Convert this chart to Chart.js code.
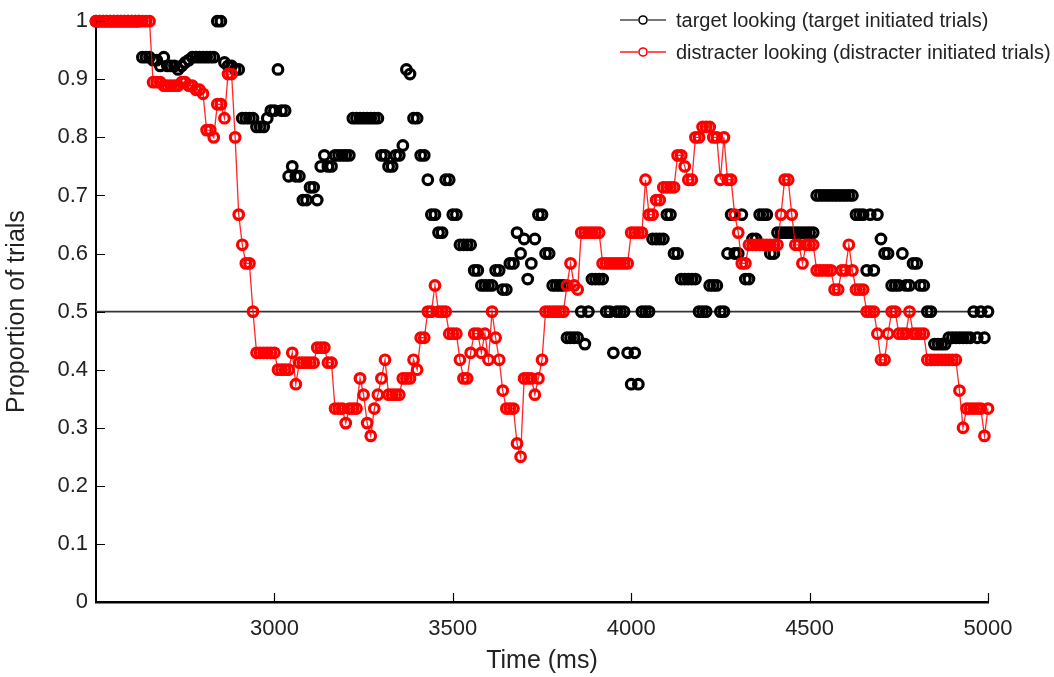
<!DOCTYPE html>
<html>
<head>
<meta charset="utf-8">
<script src="https://cdn.jsdelivr.net/npm/chart.js@4.4.1/dist/chart.umd.min.js"></script>
<style>
  html, body { margin: 0; padding: 0; background: #fff; }
  #wrap { position: relative; width: 1054px; height: 677px; }
  canvas { display: block; }
  #legend { position: absolute; left: 618px; top: 4px; font-family: 'Liberation Sans', Arial, sans-serif; font-size: 20px; color: #222; }
  #legend .row { height: 32px; line-height: 32px; white-space: nowrap; display: flex; align-items: center; }
  #legend svg { margin-right: 8px; }
</style>
</head>
<body>
<div id="wrap">
  <canvas id="c" width="1054" height="677"></canvas>
  <div id="legend"></div>
</div>
<script>
// ---- data ----
const times = [
  2500,2510,2520,2530,2540,2550,2560,2570,2580,2590,
  2600,2610,2620,2630,2640,2650,2660,2670,2680,2690,
  2700,2710,2720,2730,2740,2750,2760,2770,2780,2790,
  2800,2810,2820,2830,2840,2850,2860,2870,2880,2890,
  2900,2910,2920,2930,2940,2950,2960,2970,2980,2990,
  3000,3010,3020,3030,3040,3050,3060,3070,3080,3090,
  3100,3110,3120,3130,3140,3150,3160,3170,3180,3190,
  3200,3210,3220,3230,3240,3250,3260,3270,3280,3290,
  3300,3310,3320,3330,3340,3350,3360,3370,3380,3390,
  3400,3410,3420,3430,3440,3450,3460,3470,3480,3490,
  3500,3510,3520,3530,3540,3550,3560,3570,3580,3590,
  3600,3610,3620,3630,3640,3650,3660,3670,3680,3690,
  3700,3710,3720,3730,3740,3750,3760,3770,3780,3790,
  3800,3810,3820,3830,3840,3850,3860,3870,3880,3890,
  3900,3910,3920,3930,3940,3950,3960,3970,3980,3990,
  4000,4010,4020,4030,4040,4050,4060,4070,4080,4090,
  4100,4110,4120,4130,4140,4150,4160,4170,4180,4190,
  4200,4210,4220,4230,4240,4250,4260,4270,4280,4290,
  4300,4310,4320,4330,4340,4350,4360,4370,4380,4390,
  4400,4410,4420,4430,4440,4450,4460,4470,4480,4490,
  4500,4510,4520,4530,4540,4550,4560,4570,4580,4590,
  4600,4610,4620,4630,4640,4650,4660,4670,4680,4690,
  4700,4710,4720,4730,4740,4750,4760,4770,4780,4790,
  4800,4810,4820,4830,4840,4850,4860,4870,4880,4890,
  4900,4910,4920,4930,4940,4950,4960,4970,4980,4990,
  5000
];

const targetLooking = [
  1,1,1,1,1,1,1,1,1,1,
  1,1,1,.938,.938,.938,.933,.933,.923,.938,
  .923,.923,.923,.917,.923,.929,.933,.938,.938,.938,
  .938,.938,.938,.938,1,1,.929,.923,.923,.917,
  .917,.833,.833,.833,.833,.818,.818,.818,.833,.846,
  .846,.917,.846,.846,.733,.75,.733,.733,.692,.692,
  .714,.714,.692,.75,.769,.75,.75,.769,.769,.769,
  .769,.769,.833,.833,.833,.833,.833,.833,.833,.833,
  .769,.769,.75,.75,.769,.769,.786,.917,.909,.833,
  .833,.769,.769,.727,.667,.667,.636,.636,.727,.727,
  .667,.667,.615,.615,.615,.615,.571,.571,.545,.545,
  .545,.545,.571,.571,.538,.538,.583,.583,.636,.6,
  .625,.556,.583,.625,.667,.667,.6,.6,.545,.545,
  .545,.545,.455,.455,.455,.455,.5,.444,.5,.556,
  .556,.556,.556,.5,.5,.429,.5,.5,.5,.429,
  .375,.429,.375,.5,.5,.5,.625,.625,.625,.625,
  .667,.667,.6,.6,.556,.556,.556,.556,.556,.5,
  .5,.5,.545,.545,.545,.5,.5,.6,.667,.6,
  .6,.667,.556,.556,.625,.625,.667,.667,.667,.6,
  .6,.636,.636,.636,.636,.636,.636,.636,.636,.636,
  .636,.636,.7,.7,.7,.7,.7,.7,.7,.7,
  .7,.7,.7,.667,.667,.667,.571,.667,.571,.667,
  .625,.6,.6,.545,.545,.545,.6,.545,.545,.583,
  .583,.545,.545,.5,.5,.444,.444,.444,.444,.455,
  .455,.455,.455,.455,.455,.455,.5,.455,.5,.455,
  .5
];

const distracterLooking = [
  1,1,1,1,1,1,1,1,1,1,
  1,1,1,1,1,1,.895,.895,.895,.889,
  .889,.889,.889,.889,.895,.895,.889,.889,.882,.882,
  .875,.8125,.8125,.8,.857,.857,.833,.909,.909,.8,
  .667,.615,.583,.583,.5,.429,.429,.429,.429,.429,
  .429,.4,.4,.4,.4,.429,.375,.412,.412,.412,
  .412,.412,.438,.438,.438,.412,.412,.333,.333,.333,
  .308,.333,.333,.333,.385,.357,.308,.286,.333,.357,
  .385,.417,.357,.357,.357,.357,.385,.385,.385,.417,
  .4,.455,.455,.5,.5,.545,.5,.5,.5,.462,
  .462,.462,.417,.385,.385,.429,.462,.462,.429,.462,
  .417,.5,.455,.417,.364,.333,.333,.333,.273,.25,
  .385,.385,.385,.357,.385,.417,.5,.5,.5,.5,
  .5,.5,.545,.583,.545,.538,.636,.636,.636,.636,
  .636,.636,.583,.583,.583,.583,.583,.583,.583,.583,
  .636,.636,.636,.636,.727,.667,.667,.692,.692,.714,
  .714,.714,.714,.769,.769,.75,.727,.727,.8,.8,
  .818,.818,.818,.8,.8,.727,.8,.727,.727,.667,
  .636,.583,.583,.615,.615,.615,.615,.615,.615,.615,
  .615,.615,.667,.727,.727,.667,.615,.615,.583,.615,
  .615,.615,.571,.571,.571,.571,.571,.538,.538,.571,
  .571,.615,.571,.538,.538,.538,.5,.5,.5,.462,
  .417,.417,.462,.5,.5,.462,.462,.462,.5,.462,
  .462,.462,.462,.417,.417,.417,.417,.417,.417,.417,
  .417,.417,.364,.3,.333,.333,.333,.333,.333,.286,
  .333
];

const chanceLevel = 0.5;
const xRange = [2500, 5000];
const xTickValues = [3000, 3500, 4000, 4500, 5000];
const yTickValues = [0, 0.1, 0.2, 0.3, 0.4, 0.5, 0.6, 0.7, 0.8, 0.9, 1];
const seriesNames = ['target looking (target initiated trials)', 'distracter looking (distracter initiated trials)'];
const xTitle = 'Time (ms)';
const yTitle = 'Proportion of trials';

// ---- chart ----
const FONT = "'Liberation Sans', Arial, sans-serif";
const toPts = (vals) => vals.map((v, i) => ({ x: times[i], y: v }));

const inwardTicks = {
  id: 'inwardTicks',
  afterDraw(chart) {
    const { ctx, scales: { x, y } } = chart;
    ctx.save();
    ctx.strokeStyle = '#000';
    ctx.lineWidth = 1.2;
    ctx.beginPath();
    xTickValues.forEach(v => {
      const px = Math.round(x.getPixelForValue(v)) + 0.5;
      ctx.moveTo(px, y.bottom);
      ctx.lineTo(px, y.bottom - 9);
    });
    yTickValues.forEach(v => {
      const py = Math.round(y.getPixelForValue(v)) + 0.5;
      ctx.moveTo(x.left, py);
      ctx.lineTo(x.left + 9, py);
    });
    ctx.stroke();
    ctx.restore();
  }
};

new Chart(document.getElementById('c'), {
  type: 'scatter',
  data: {
    datasets: [
      {
        label: seriesNames[1],
        data: toPts(distracterLooking),
        showLine: true,
        borderColor: 'rgba(255,0,0,0.85)',
        borderWidth: 1.3,
        pointBorderColor: '#ff0000',
        pointBackgroundColor: 'rgba(0,0,0,0)',
        pointRadius: 4.8,
        pointBorderWidth: 3.2,
        clip: false,
        order: 0
      },
      {
        label: seriesNames[0],
        data: toPts(targetLooking),
        showLine: false,
        borderColor: '#000',
        pointBorderColor: '#000',
        pointBackgroundColor: 'rgba(0,0,0,0)',
        pointRadius: 4.8,
        pointBorderWidth: 3.2,
        clip: false,
        order: 1
      },
      {
        label: 'chance',
        data: [{ x: xRange[0], y: chanceLevel }, { x: xRange[1], y: chanceLevel }],
        showLine: true,
        borderColor: '#333',
        borderWidth: 1.6,
        pointRadius: 0,
        order: 2
      }
    ]
  },
  options: {
    responsive: false,
    animation: false,
    events: [],
    layout: { padding: { top: 14, right: 66, left: 0, bottom: 0 } },
    plugins: { legend: { display: false }, tooltip: { enabled: false } },
    scales: {
      x: {
        type: 'linear',
        min: xRange[0], max: xRange[1],
        afterBuildTicks: (s) => { s.ticks = xTickValues.map(v => ({ value: v })); },
        afterFit: (s) => { s.height = 75; },
        grid: { display: false, drawTicks: false },
        border: { display: true, color: '#000', width: 2.5 },
        ticks: { padding: 14, color: '#222', font: { family: FONT, size: 22 }, maxRotation: 0, callback: (v) => String(v) },
        title: { display: true, text: xTitle, color: '#222', font: { family: FONT, size: 25 }, padding: { top: 2, bottom: 1 } }
      },
      y: {
        type: 'linear',
        min: 0, max: 1,
        afterBuildTicks: (s) => { s.ticks = yTickValues.map(v => ({ value: v })); },
        afterFit: (s) => { s.width = 96; },
        grid: { display: false, drawTicks: false },
        border: { display: true, color: '#000', width: 2 },
        ticks: { padding: 8, color: '#222', font: { family: FONT, size: 22 }, callback: (v) => String(Number(v.toFixed(1))) },
        title: { display: true, text: yTitle, color: '#222', font: { family: FONT, size: 25 }, padding: { top: 2, bottom: 4 } }
      }
    }
  },
  plugins: [inwardTicks]
});

// ---- legend ----
const legendColors = [{ line: '#555', mark: '#000' }, { line: '#ff2a2a', mark: '#ff0000' }];
const legendEl = document.getElementById('legend');
seriesNames.forEach((name, i) => {
  const row = document.createElement('div');
  row.className = 'row';
  const c = legendColors[i];
  row.innerHTML = '<svg width="50" height="14" viewBox="0 0 50 14">' +
    '<line x1="2" y1="7" x2="20" y2="7" stroke="' + c.line + '" stroke-width="1.6"/>' +
    '<line x1="30" y1="7" x2="48" y2="7" stroke="' + c.line + '" stroke-width="1.6"/>' +
    '<circle cx="25" cy="7" r="4" fill="#fff" stroke="' + c.mark + '" stroke-width="1.6"/></svg>' +
    '<span></span>';
  row.querySelector('span').textContent = name;
  legendEl.appendChild(row);
});
</script>
</body>
</html>
